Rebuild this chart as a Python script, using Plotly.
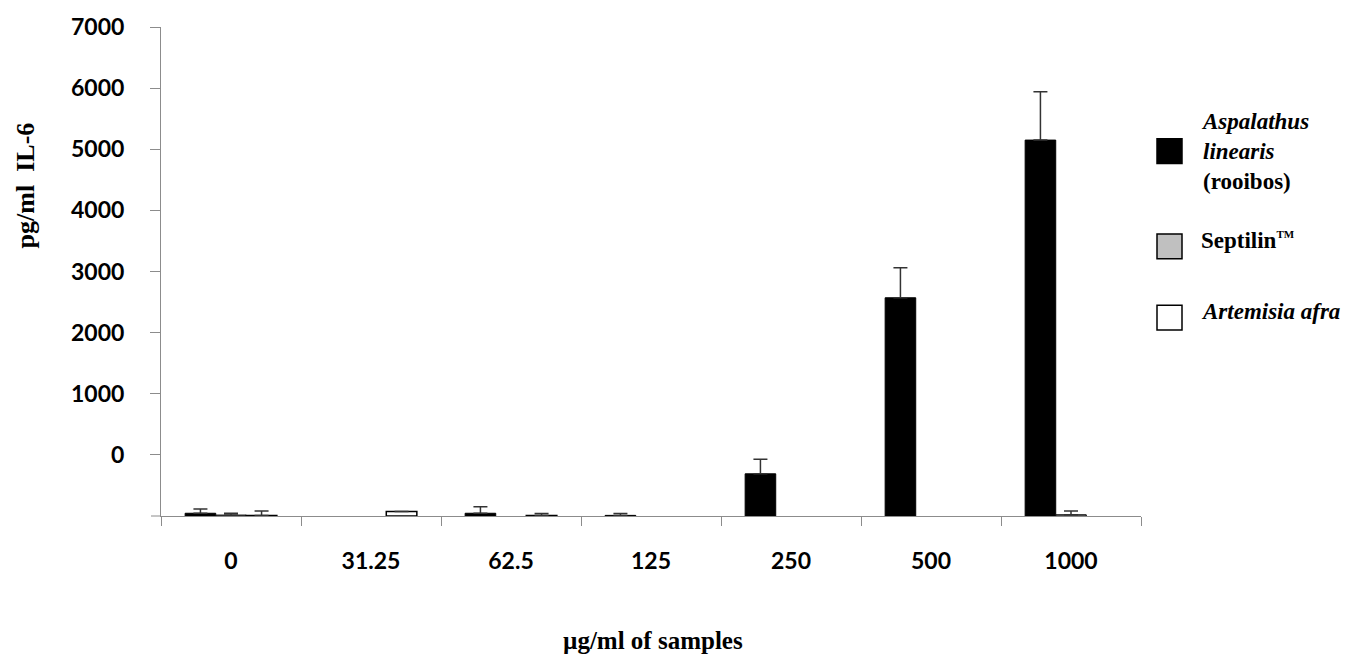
import plotly.graph_objects as go

# ---- data ----
categories = ["0", "31.25", "62.5", "125", "250", "500", "1000"]
series_names = ["Aspalathus linearis (rooibos)", "Septilin™", "Artemisia afra"]
rooibos = [45, None, 45, 10, 690, 3570, 6150]
rooibos_err = [70, 0, 105, 30, 240, 490, 790]
septilin = [15, None, None, None, None, None, 20]
septilin_err = [30, 0, 0, 0, 0, 0, 60]
artemisia = [10, 75, 10, None, None, None, None]
artemisia_err = [70, 0, 30, 0, 0, 0, 0]
y_tickvals = [1000, 2000, 3000, 4000, 5000, 6000, 7000, 8000]
y_ticktext = ["0", "1000", "2000", "3000", "4000", "5000", "6000", "7000"]

W, H = 1363, 659
L, R, T, B = 161, 1363 - 1141, 22, 659 - 516
PW, PH = W - L - R, H - T - B


def px(x):
    """page x pixel -> paper coordinate"""
    return (x - L) / PW


def py(y):
    """page y pixel -> paper coordinate"""
    return (H - B - y) / PH


tick_font = dict(family="Lato, Open Sans, sans-serif", size=23,
                 color="black", weight="bold")
serif = "Liberation Serif, Times New Roman, serif"
axis_col = "#8c8c8c"
err_col = "#333333"

fig = go.Figure()
fills = ["black", "#c0c0c0", "white"]
line_w = [1, 1, 1.5]
for name, vals, errs, fc, lw in zip(series_names,
                                    [rooibos, septilin, artemisia],
                                    [rooibos_err, septilin_err, artemisia_err],
                                    fills, line_w):
    fig.add_trace(go.Bar(
        x=categories, y=vals, name=name,
        marker=dict(color=fc, line=dict(color="black", width=lw)),
        error_y=dict(type="data", array=errs, arrayminus=[0] * len(errs),
                     symmetric=False, color=err_col, thickness=1.5, width=7),
        showlegend=False,
    ))

fig.update_layout(
    width=W, height=H,
    margin=dict(l=L, r=R, t=T, b=B, pad=0),
    plot_bgcolor="white", paper_bgcolor="white",
    barmode="group", bargap=0.345, bargroupgap=0,
    xaxis=dict(
        type="category", showgrid=False, zeroline=False,
        showline=True, linecolor=axis_col, linewidth=1,
        ticks="outside", tickson="boundaries", ticklen=9,
        tickcolor=axis_col, tickwidth=1,
        tickfont=tick_font, ticklabelstandoff=24,
    ),
    yaxis=dict(
        range=[0, 8000], showgrid=False, zeroline=False,
        showline=True, linecolor=axis_col, linewidth=1,
        ticks="outside", ticklen=10, tickcolor=axis_col, tickwidth=1,
        tickvals=y_tickvals, ticktext=y_ticktext,
        tickfont=tick_font, ticklabelstandoff=21,
        ticklabeloverflow="allow",
    ),
)

annotations = [
    dict(text="<b>pg/ml  IL-6</b>", x=px(25), y=py(182), textangle=-90,
         font=dict(family=serif, size=26, color="black")),
    dict(text="<b>µg/ml of samples</b>", x=px(653), y=py(642),
         font=dict(family=serif, size=25, color="black")),
    dict(text="<b><i>Aspalathus</i><br><i>linearis</i><br>(rooibos)</b>",
         x=px(1199), y=py(148), xanchor="left", align="left",
         font=dict(family=serif, size=23, color="black")),
    dict(text="<b>Septilin<sup><span style='font-size:11px'>TM</span></sup></b>",
         x=px(1199), y=py(238),
         xanchor="left", font=dict(family=serif, size=23, color="black")),
    dict(text="<b><i>Artemisia afra</i></b>", x=px(1199), y=py(309),
         xanchor="left", font=dict(family=serif, size=23, color="black")),
]
for a in annotations:
    a.setdefault("xanchor", "center")
    a.update(xref="paper", yref="paper", yanchor="middle", showarrow=False)
    fig.add_annotation(**a)

legend_boxes = [(135, 160, "black"), (231, 256, "#c0c0c0"), (303, 328, "white")]
for y0, y1, fc in legend_boxes:
    fig.add_shape(type="rect", xref="paper", yref="paper",
                  x0=px(1157), x1=px(1182), y0=py(y1), y1=py(y0),
                  fillcolor=fc, line=dict(color="black", width=1.5))

# unlabeled tick at the bottom of the value axis
fig.add_shape(type="line", xref="paper", yref="paper",
              x0=px(151), x1=px(161), y0=0, y1=0,
              line=dict(color=axis_col, width=1))

# remove the browser's default 8px body margin so the figure fills the window
fig.write_html("out.html",
               config={"displayModeBar": False},
               post_script="document.body.style.margin='0';"
                           "document.body.style.overflow='hidden';")
